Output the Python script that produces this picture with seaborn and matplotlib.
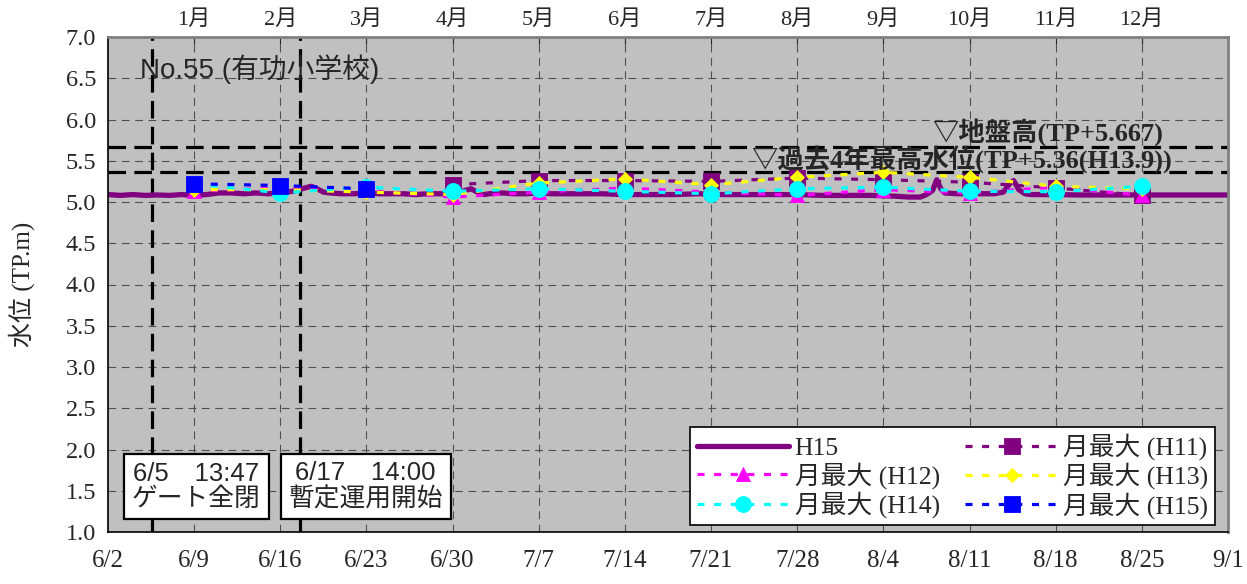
import numpy as np
import pandas as pd
import matplotlib
matplotlib.use("Agg")
import matplotlib.pyplot as plt
import matplotlib.dates as mdates
from matplotlib.ticker import FixedLocator, FixedFormatter, MultipleLocator, FormatStrFormatter
import seaborn as sns

sns.set_style("white")
SERIF = ["Liberation Serif", "Noto Sans CJK JP"]
SANS = ["Liberation Sans", "Noto Sans CJK JP"]
plt.rcParams["font.family"] = SERIF
plt.rcParams["axes.unicode_minus"] = False

# ---- data -------------------------------------------------------------
# water level record for H15 (TP.m)
h15_times = [
    "2003-06-02 00:00", "2003-06-03 00:00", "2003-06-04 00:00", "2003-06-05 00:00",
    "2003-06-06 00:00", "2003-06-07 00:00", "2003-06-08 00:00", "2003-06-09 00:00",
    "2003-06-10 00:00", "2003-06-11 00:00", "2003-06-12 00:00", "2003-06-13 00:00",
    "2003-06-14 00:00", "2003-06-15 00:00", "2003-06-16 00:00", "2003-06-17 00:00",
    "2003-06-17 12:00", "2003-06-18 00:00", "2003-06-18 12:00", "2003-06-19 00:00",
    "2003-06-19 12:00", "2003-06-20 00:00", "2003-06-21 00:00", "2003-06-22 00:00",
    "2003-06-23 00:00", "2003-06-24 00:00", "2003-06-25 00:00", "2003-06-26 00:00",
    "2003-06-27 00:00", "2003-06-28 00:00", "2003-06-29 00:00", "2003-06-30 00:00",
    "2003-06-30 12:00", "2003-07-01 00:00", "2003-07-01 12:00", "2003-07-02 00:00",
    "2003-07-02 12:00", "2003-07-03 00:00", "2003-07-04 00:00", "2003-07-05 00:00",
    "2003-07-06 00:00", "2003-07-07 00:00", "2003-07-08 00:00", "2003-07-10 00:00",
    "2003-07-12 00:00", "2003-07-14 00:00", "2003-07-16 00:00", "2003-07-18 00:00",
    "2003-07-20 00:00", "2003-07-22 00:00", "2003-07-24 00:00", "2003-07-26 00:00",
    "2003-07-28 00:00", "2003-07-30 00:00", "2003-08-01 00:00", "2003-08-03 00:00",
    "2003-08-05 00:00", "2003-08-06 00:00", "2003-08-07 00:00", "2003-08-07 12:00",
    "2003-08-08 00:00", "2003-08-08 08:00", "2003-08-08 16:00", "2003-08-09 00:00",
    "2003-08-10 00:00", "2003-08-11 00:00", "2003-08-12 00:00", "2003-08-13 00:00",
    "2003-08-13 18:00", "2003-08-14 06:00", "2003-08-14 14:00", "2003-08-15 00:00",
    "2003-08-15 12:00", "2003-08-16 00:00", "2003-08-18 00:00", "2003-08-20 00:00",
    "2003-08-22 00:00", "2003-08-24 00:00", "2003-08-26 00:00", "2003-08-28 00:00",
    "2003-08-30 00:00", "2003-09-01 00:00",
]
h15_levels = [
    5.09, 5.08, 5.09, 5.08,
    5.085, 5.08, 5.09, 5.08,
    5.09, 5.11, 5.11, 5.10,
    5.11, 5.10, 5.11, 5.13,
    5.15, 5.17, 5.19, 5.16,
    5.12, 5.11, 5.10, 5.10,
    5.11, 5.10, 5.10, 5.10,
    5.09, 5.10, 5.10, 5.10,
    5.11, 5.14, 5.16, 5.12,
    5.09, 5.10, 5.11, 5.10,
    5.10, 5.11, 5.10, 5.10,
    5.10, 5.09, 5.09, 5.09,
    5.10, 5.09, 5.09, 5.09,
    5.09, 5.08, 5.08, 5.08,
    5.07, 5.06, 5.06, 5.09,
    5.14, 5.27, 5.16, 5.11,
    5.10, 5.10, 5.10, 5.10,
    5.12, 5.22, 5.26, 5.15,
    5.10, 5.09, 5.09, 5.085,
    5.085, 5.085, 5.085, 5.085,
    5.085, 5.085,
]

# monthly maxima of past years, one value per month (1月 ... 12月)
month_labels = ["1月", "2月", "3月", "4月", "5月", "6月",
                "7月", "8月", "9月", "10月", "11月", "12月"]
max_h11 = [np.nan, np.nan, np.nan, 5.21, 5.26, 5.26, 5.25, 5.29, 5.27, 5.24, 5.17, 5.08]
max_h12 = [5.13, 5.17, 5.14, 5.06, 5.12, 5.17, 5.12, 5.08, 5.15, 5.11, 5.18, 5.08]
max_h13 = [5.15, 5.15, 5.12, 5.09, 5.23, 5.28, 5.21, 5.30, 5.36, 5.30, 5.19, 5.16]
max_h14 = [5.22, 5.11, 5.18, 5.13, 5.16, 5.13, 5.10, 5.16, 5.18, 5.13, 5.125, 5.19]
max_h15 = [5.22, 5.20, 5.16]

GROUND_LEVEL = 5.667
RECORD_LEVEL = 5.36
gate_close = "2003-06-05 13:47"
interim_start = "2003-06-17 14:00"

x_start, x_end = "2003-06-02", "2003-09-01"

# ---- figure -------------------------------------------------------------
W, H = 1247, 584
fig = plt.figure(figsize=(W / 100, H / 100), dpi=100)
ax = fig.add_axes([108 / W, 52 / H, 1120 / W, 495 / H])
ax.set_facecolor("#C0C0C0")

week_ticks = pd.date_range(x_start, x_end, freq="7D")
month_pos = pd.date_range("2003-06-09", periods=12, freq="7D")

# grid
grid_kw = dict(color="#505050", lw=0.8, linestyle=(0, (7, 5)), zorder=0.5)
for y in np.arange(1.5, 7.0, 0.5):
    ax.axhline(y, **grid_kw)
for d in week_ticks[1:-1]:
    ax.axvline(d, **grid_kw)

# reference levels and event lines
ref_kw = dict(color="black", lw=2.3, linestyle=(0, (5.5, 2.6)), zorder=1)
ax.axhline(GROUND_LEVEL, **ref_kw)
ax.axhline(RECORD_LEVEL, **ref_kw)
ax.axvline(pd.Timestamp(gate_close), **ref_kw)
ax.axvline(pd.Timestamp(interim_start), **ref_kw)

# observed level
df15 = pd.DataFrame({"time": pd.to_datetime(h15_times), "level": h15_levels})
sns.lineplot(data=df15, x="time", y="level", color="#800080", lw=3.8,
             ax=ax, legend=False, label="H15", zorder=2, estimator=None)

dash = (0, (2.2, 3.0))
series = [
    ("月最大 (H11)", max_h11, "#800080", "s", 11),
    ("月最大 (H12)", max_h12, "#FF00FF", "^", 10),
    ("月最大 (H13)", max_h13, "#FFFF00", "D", 7.5),
    ("月最大 (H14)", max_h14, "#00FFFF", "o", 11.5),
    ("月最大 (H15)", max_h15, "#0000FF", "s", 11.5),
]
for i, (lab, vals, col, mk, ms) in enumerate(series):
    d = pd.DataFrame({"time": month_pos[:len(vals)], "level": vals}).dropna()
    sns.lineplot(data=d, x="time", y="level", color=col, lw=2.3,
                 linestyle=dash, marker=mk, markersize=ms,
                 markeredgecolor=col, markeredgewidth=0.6,
                 ax=ax, legend=False, label=lab, zorder=3 + i, estimator=None)

# axes
ax.set_xlim(pd.Timestamp(x_start), pd.Timestamp(x_end))
ax.set_ylim(1.0, 7.0)
ax.yaxis.set_major_locator(MultipleLocator(0.5))
ax.yaxis.set_major_formatter(FormatStrFormatter("%.1f"))
ax.xaxis.set_major_locator(FixedLocator(mdates.date2num(week_ticks.to_pydatetime())))
ax.xaxis.set_major_formatter(FixedFormatter([f"{d.month}/{d.day}" for d in week_ticks]))
ax.tick_params(axis="x", direction="in", length=5, width=1, labelsize=18, pad=13)
ax.tick_params(axis="y", direction="inout", length=5, width=1, labelsize=17.5, pad=6)
ax.set_xlabel("")
ax.set_ylabel("水位 (TP.m)", fontsize=18, labelpad=22)

for s in ("left", "bottom"):
    ax.spines[s].set_color("black")
    ax.spines[s].set_linewidth(1.2)
for s in ("top", "right"):
    ax.spines[s].set_color("#808080")
    ax.spines[s].set_linewidth(2)

top = ax.secondary_xaxis("top")
top.set_xticks(mdates.date2num(month_pos.to_pydatetime()))
top.set_xticklabels(month_labels)
top.tick_params(direction="in", length=5, labelsize=16, pad=5)
top.spines["top"].set_visible(False)

# labels
ax.text(0.029, 0.935, "No.55 (有功小学校)", transform=ax.transAxes,
        ha="left", va="center", fontsize=20, family=SANS, zorder=10)
ax.text(0.942, 0.806, f"▽地盤高(TP+{GROUND_LEVEL:.3f})", transform=ax.transAxes,
        ha="right", va="center", fontsize=19, fontweight="bold", zorder=10)
ax.text(0.950, 0.752, f"▽過去4年最高水位(TP+{RECORD_LEVEL:.2f}(H13.9))",
        transform=ax.transAxes, ha="right", va="center", fontsize=19,
        fontweight="bold", zorder=10)

box_kw = dict(boxstyle="square,pad=0.3", fc="white", ec="black", lw=1.6)
ax.text(0.079, 0.092, "6/5　13:47\nゲート全閉", transform=ax.transAxes,
        ha="center", va="center", fontsize=18.5, family=SANS, linespacing=1.1,
        bbox=box_kw, zorder=10)
ax.text(0.230, 0.092, "6/17　14:00\n暫定運用開始", transform=ax.transAxes,
        ha="center", va="center", fontsize=18.5, family=SANS, linespacing=1.1,
        bbox=box_kw, zorder=10)

handles, labels = ax.get_legend_handles_labels()
lookup = dict(zip(labels, handles))
order = ["H15", "月最大 (H12)", "月最大 (H14)",
         "月最大 (H11)", "月最大 (H13)", "月最大 (H15)"]
leg = ax.legend([lookup[k] for k in order], order, ncol=2,
                loc="lower right", bbox_to_anchor=(0.988, 0.014),
                borderaxespad=0, fontsize=18.5, frameon=True, fancybox=False,
                framealpha=1, edgecolor="black", handlelength=3.6,
                handletextpad=0.2, labelspacing=0.1, columnspacing=1.0,
                borderpad=0.25)
leg.get_frame().set_linewidth(1.2)
leg.set_zorder(20)

fig.savefig("out.png", dpi=100)
